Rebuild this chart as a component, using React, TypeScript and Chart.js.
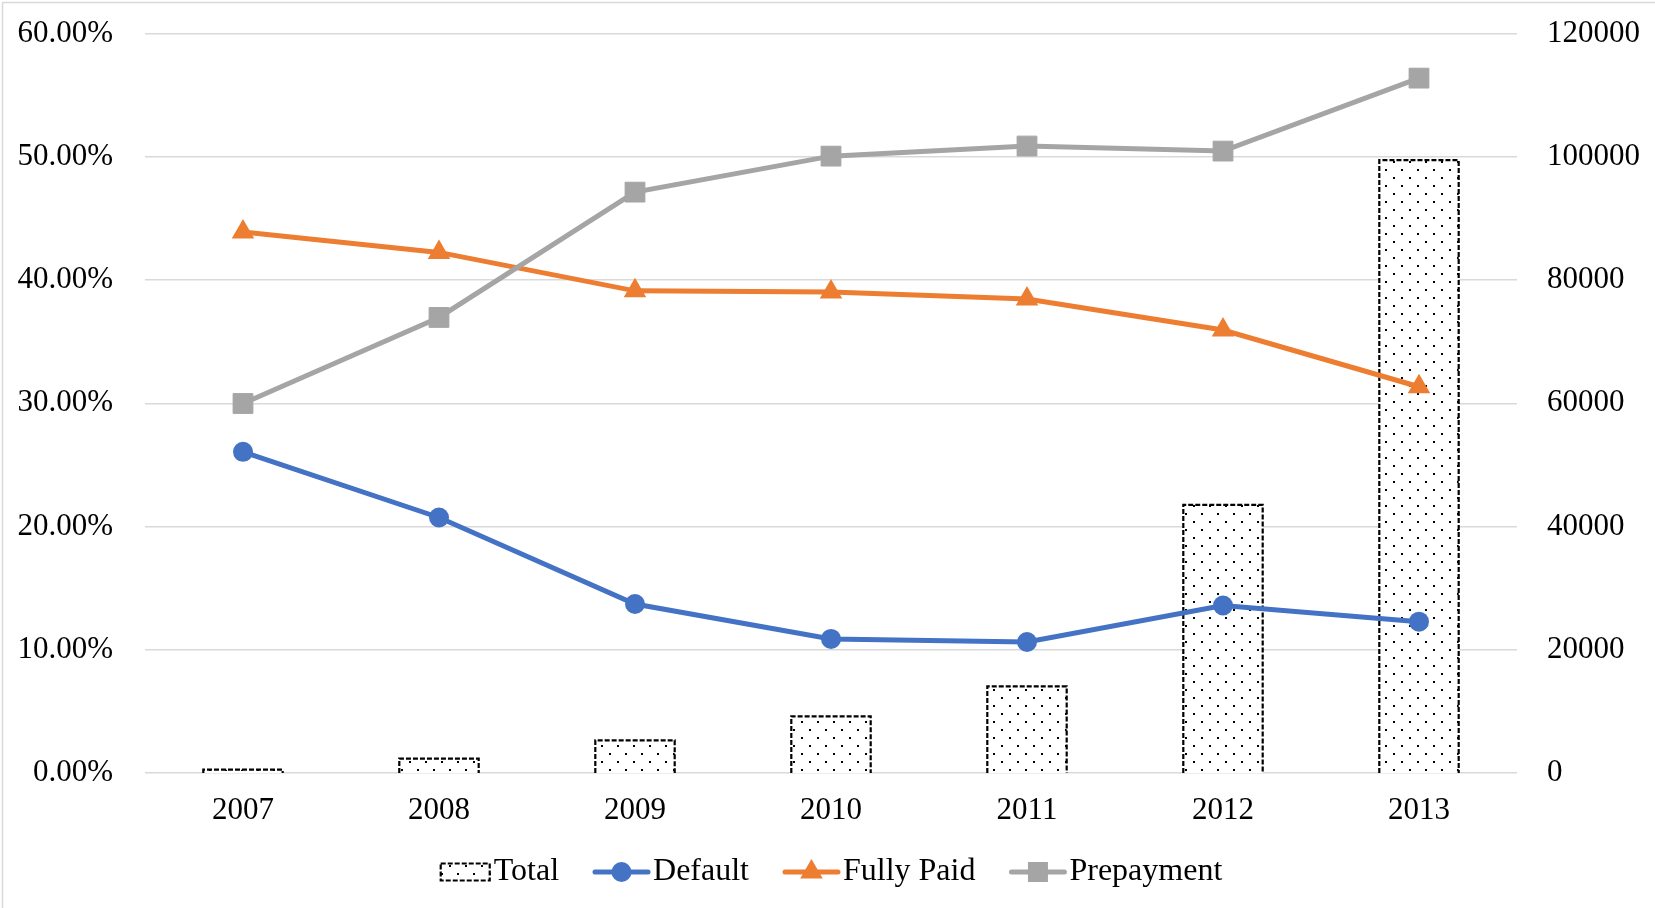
import React, { useEffect, useRef } from 'react';
import { Chart, registerables } from 'chart.js';

Chart.register(...registerables);

// ---- data ----
const years = ['2007', '2008', '2009', '2010', '2011', '2012', '2013'];
const totalLoans = [540, 2330, 5300, 9200, 14050, 43500, 99450];
const defaultRate = [26.06, 20.73, 13.71, 10.88, 10.63, 13.59, 12.28];
const fullyPaidRate = [43.9, 42.24, 39.12, 39.03, 38.46, 35.94, 31.34];
const prepaymentRate = [29.98, 36.96, 47.13, 50.05, 50.87, 50.46, 56.38];

// axis ranges
const rateMax = 60;
const rateStep = 10;
const countMax = 120000;
const countStep = 20000;

const WIDTH = 1655;
const HEIGHT = 908;
const SERIF = "'Liberation Serif', 'Times New Roman', serif";
const FONT_SIZE = 31;
const LEGEND_FONT_SIZE = 32;

const BLUE = '#4472C4';
const ORANGE = '#ED7D31';
const GRAY = '#A5A5A5';

function drawMarker(ctx: CanvasRenderingContext2D, style: string, x: number, y: number, color: string) {
  ctx.save();
  ctx.fillStyle = color;
  ctx.beginPath();
  if (style === 'circle') {
    ctx.arc(x, y, 10, 0, Math.PI * 2);
  } else if (style === 'triangle') {
    const r = 13;
    ctx.moveTo(x, y - r);
    ctx.lineTo(x + r * 0.866, y + r / 2);
    ctx.lineTo(x - r * 0.866, y + r / 2);
    ctx.closePath();
  } else {
    ctx.rect(x - 10, y - 10, 20, 20);
  }
  ctx.fill();
  ctx.restore();
}

function strokeDashedBar(ctx: CanvasRenderingContext2D, left: number, top: number, right: number, bottom: number) {
  ctx.save();
  ctx.strokeStyle = '#000';
  ctx.lineWidth = 2.2;
  ctx.setLineDash([5, 2]);
  ctx.beginPath();
  ctx.moveTo(left, bottom);
  ctx.lineTo(left, top);
  ctx.lineTo(right, top);
  ctx.lineTo(right, bottom);
  ctx.stroke();
  ctx.restore();
}

// light frame on the top and left edges
const framePlugin = {
  id: 'frame',
  beforeDraw(chart: Chart) {
    const ctx = chart.ctx;
    ctx.save();
    ctx.fillStyle = '#fff';
    ctx.fillRect(0, 0, chart.width, chart.height);
    ctx.strokeStyle = '#d9d9d9';
    ctx.lineWidth = 1.5;
    ctx.beginPath();
    ctx.moveTo(2.5, chart.height);
    ctx.lineTo(2.5, 2.5);
    ctx.lineTo(chart.width, 2.5);
    ctx.stroke();
    ctx.restore();
  },
};

// dashed outline of the "Total" bars, drawn right after the bar dataset
const barOutlinePlugin = {
  id: 'barOutline',
  afterDatasetDraw(chart: Chart, args: any) {
    const ds: any = chart.data.datasets[args.index];
    if (ds.type !== 'bar') return;
    const ctx = chart.ctx;
    args.meta.data.forEach((el: any) => {
      const p = el.getProps(['x', 'y', 'base', 'width'], true);
      strokeDashedBar(ctx, p.x - p.width / 2, p.y, p.x + p.width / 2, p.base);
    });
  },
};

// legend row under the axis
const legendPlugin = {
  id: 'customLegend',
  afterDraw(chart: Chart) {
    const ctx = chart.ctx;
    const area = chart.chartArea;
    const cy = 872;
    const iconGap = 3;
    const itemGap = 34;
    ctx.save();
    ctx.font = `${LEGEND_FONT_SIZE}px ${SERIF}`;
    ctx.textBaseline = 'middle';
    ctx.textAlign = 'left';
    const items = chart.data.datasets.map((d: any) => ({
      label: d.label as string,
      type: d.type as string,
      color: d.borderColor as string,
      style: d.pointStyle as string,
      iconW: d.type === 'bar' ? 51 : 57,
    }));
    const total = items.reduce(
      (s, it, i) => s + it.iconW + iconGap + ctx.measureText(it.label).width + (i > 0 ? itemGap : 0),
      0
    );
    let x = (area.left + area.right) / 2 - total / 2;
    items.forEach((it, i) => {
      if (i > 0) x += itemGap;
      if (it.type === 'bar') {
        const h = 17;
        ctx.fillStyle = (chart.data.datasets[i] as any).backgroundColor;
        ctx.fillRect(x, cy - h / 2, it.iconW, h);
        ctx.save();
        ctx.strokeStyle = '#000';
        ctx.lineWidth = 2.2;
        ctx.setLineDash([5, 2]);
        ctx.strokeRect(x + 1, cy - h / 2, it.iconW - 2, h);
        ctx.restore();
      } else {
        ctx.save();
        ctx.strokeStyle = it.color;
        ctx.lineWidth = 5;
        ctx.lineCap = 'round';
        ctx.beginPath();
        ctx.moveTo(x + 2, cy);
        ctx.lineTo(x + it.iconW - 2, cy);
        ctx.stroke();
        ctx.restore();
        drawMarker(ctx, it.style, x + it.iconW / 2, cy, it.color);
      }
      x += it.iconW + iconGap;
      ctx.fillStyle = '#000';
      ctx.fillText(it.label, x, cy);
      x += ctx.measureText(it.label).width;
    });
    ctx.restore();
  },
};

// fixed axis sizes; drop the extra label padding so the plot starts at layout.padding.top
const fixVertical = (w: number) => (s: any) => {
  s.width = w;
  s.paddingTop = 0;
  s.paddingBottom = 0;
};

export default function App() {
  const canvasRef = useRef<HTMLCanvasElement | null>(null);

  useEffect(() => {
    const canvas = canvasRef.current;
    if (!canvas) return;
    const ctx = canvas.getContext('2d')!;

    // dotted fill for the bars
    const tile = document.createElement('canvas');
    tile.width = 16;
    tile.height = 16;
    const tc = tile.getContext('2d')!;
    tc.fillStyle = '#fff';
    tc.fillRect(0, 0, 16, 16);
    tc.fillStyle = '#000';
    tc.fillRect(1, 1, 2, 2);
    tc.fillRect(9, 9, 2, 2);
    const dots = ctx.createPattern(tile, 'repeat') || '#fff';

    Chart.defaults.font.family = SERIF;
    Chart.defaults.font.size = FONT_SIZE;
    Chart.defaults.color = '#000';

    const chart = new Chart(ctx, {
      type: 'bar',
      data: {
        labels: years,
        datasets: [
          {
            type: 'bar',
            label: 'Total',
            data: totalLoans,
            yAxisID: 'y1',
            backgroundColor: dots as any,
            borderWidth: 0,
            categoryPercentage: 1,
            barPercentage: 0.405,
            order: 4,
          } as any,
          {
            type: 'line',
            label: 'Default',
            data: defaultRate,
            yAxisID: 'y',
            borderColor: BLUE,
            backgroundColor: BLUE,
            borderWidth: 5,
            pointStyle: 'circle',
            pointRadius: 10,
            pointBorderWidth: 0,
            pointBackgroundColor: BLUE,
            tension: 0,
            order: 3,
          },
          {
            type: 'line',
            label: 'Fully Paid',
            data: fullyPaidRate,
            yAxisID: 'y',
            borderColor: ORANGE,
            backgroundColor: ORANGE,
            borderWidth: 5,
            pointStyle: 'triangle',
            pointRadius: 13,
            pointBorderWidth: 0,
            pointBackgroundColor: ORANGE,
            tension: 0,
            order: 2,
          },
          {
            type: 'line',
            label: 'Prepayment',
            data: prepaymentRate,
            yAxisID: 'y',
            borderColor: GRAY,
            backgroundColor: GRAY,
            borderWidth: 5,
            pointStyle: 'rect',
            pointRadius: 14,
            pointBorderWidth: 1,
            pointBorderColor: GRAY,
            pointBackgroundColor: GRAY,
            tension: 0,
            order: 1,
          },
        ],
      },
      options: {
        responsive: false,
        animation: false,
        events: [],
        layout: { padding: { top: 33.5, left: 0, right: 0, bottom: 0 } },
        plugins: {
          legend: { display: false },
          tooltip: { enabled: false },
        },
        scales: {
          x: {
            offset: true,
            grid: { display: false, drawTicks: false },
            border: { display: false },
            ticks: { padding: 19, color: '#000', font: { size: FONT_SIZE, family: SERIF } },
            afterFit: (s: any) => {
              s.height = 135;
              s.paddingLeft = 0;
              s.paddingRight = 0;
            },
          },
          y: {
            position: 'left',
            min: 0,
            max: rateMax,
            grid: { color: '#d9d9d9', lineWidth: 1.5, drawTicks: false },
            border: { display: false },
            ticks: {
              stepSize: rateStep,
              padding: 32,
              color: '#000',
              font: { size: FONT_SIZE, family: SERIF },
              callback: (v: any) => Number(v).toFixed(2) + '%',
            },
            afterFit: fixVertical(145),
          },
          y1: {
            position: 'right',
            min: 0,
            max: countMax,
            grid: { display: false, drawTicks: false },
            border: { display: false },
            ticks: {
              stepSize: countStep,
              padding: 30,
              color: '#000',
              font: { size: FONT_SIZE, family: SERIF },
              callback: (v: any) => String(v),
            },
            afterFit: fixVertical(138),
          },
        },
      },
      plugins: [framePlugin, barOutlinePlugin, legendPlugin],
    } as any);

    return () => {
      chart.destroy();
    };
  }, []);

  return (
    <div style={{ position: 'fixed', left: 0, top: 0, width: WIDTH, height: HEIGHT, background: '#fff' }}>
      <canvas ref={canvasRef} width={WIDTH} height={HEIGHT} style={{ width: WIDTH, height: HEIGHT, display: 'block' }} />
    </div>
  );
}
